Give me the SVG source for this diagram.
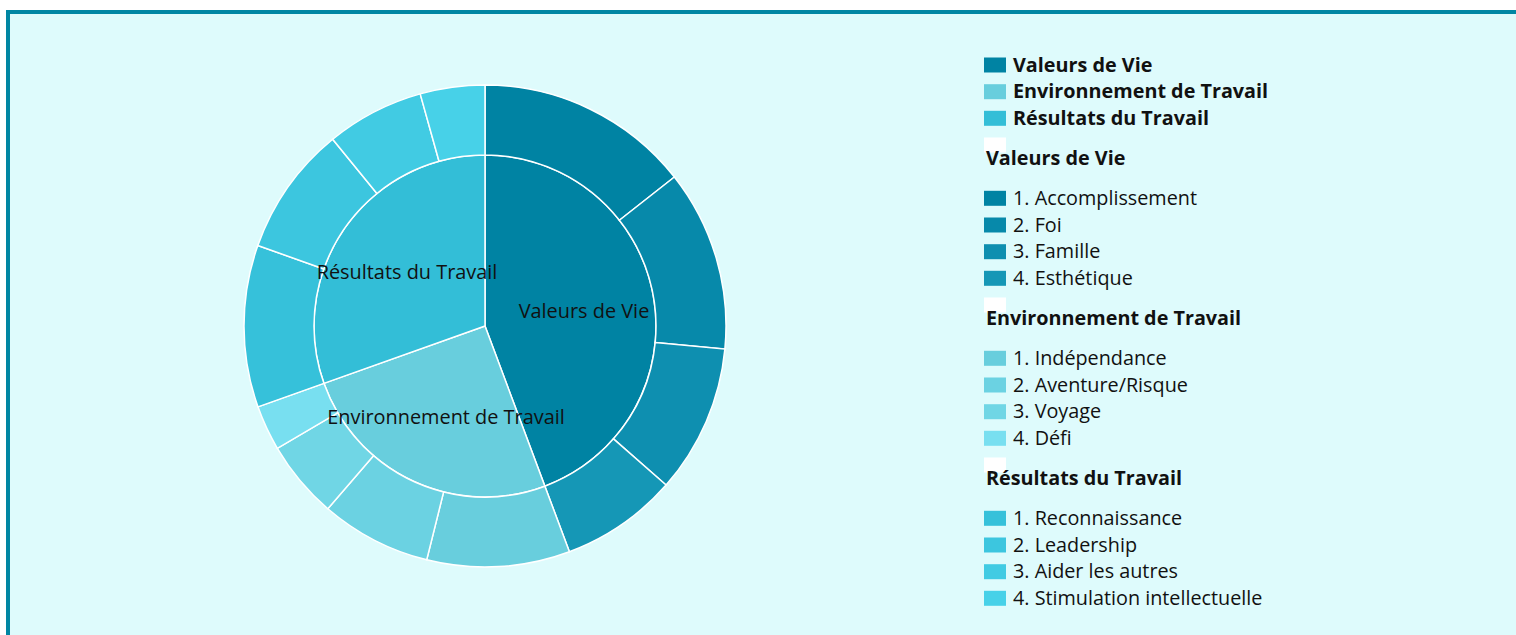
<svg xmlns="http://www.w3.org/2000/svg" width="1516" height="635" viewBox="0 0 1516 635">
<style>
text{font-family:"Open Sans","Noto Sans","Liberation Sans",sans-serif;fill:#111;}
.lbl{font-size:19.9px;}
.leg{font-size:19.8px;}
.b{font-weight:bold;}
.seg{stroke:#ffffff;stroke-width:1.5;}
</style>
<rect x="8" y="12" width="1540" height="660" fill="#defbfc" stroke="#0086a3" stroke-width="4"/>
<g id="chart">
<g id="inner">
<path id="in-valeurs" class="seg" fill="#0083a3" d="M485,326 L485,155 A171,171 0 0 1 544.88,486.18 Z"/>
<path id="in-env" class="seg" fill="#68cedd" d="M485,326 L544.88,486.18 A171,171 0 0 1 323.90,383.37 Z"/>
<path id="in-res" class="seg" fill="#33bed7" d="M485,326 L323.90,383.37 A171,171 0 0 1 485,155 Z"/>
</g>
<g id="outer">
<path id="v1" class="seg" fill="#0083a3" d="M485,155 L485,85 A241,241 0 0 1 674.40,176.97 L619.39,220.25 A171,171 0 0 0 485,155 Z"/>
<path id="v2" class="seg" fill="#0789aa" d="M619.39,220.25 L674.40,176.97 A241,241 0 0 1 724.89,349.09 L655.21,342.38 A171,171 0 0 0 619.39,220.25 Z"/>
<path id="v3" class="seg" fill="#0e8fb0" d="M655.21,342.38 L724.89,349.09 A241,241 0 0 1 666.06,485.06 L613.47,438.86 A171,171 0 0 0 655.21,342.38 Z"/>
<path id="v4" class="seg" fill="#1597b6" d="M613.47,438.86 L666.06,485.06 A241,241 0 0 1 569.40,551.74 L544.88,486.18 A171,171 0 0 0 613.47,438.86 Z"/>
<path id="e1" class="seg" fill="#68cedd" d="M544.88,486.18 L569.40,551.74 A241,241 0 0 1 426.70,559.84 L443.63,491.92 A171,171 0 0 0 544.88,486.18 Z"/>
<path id="e2" class="seg" fill="#6bd2e2" d="M443.63,491.92 L426.70,559.84 A241,241 0 0 1 327.84,508.70 L373.49,455.64 A171,171 0 0 0 443.63,491.92 Z"/>
<path id="e3" class="seg" fill="#70d6e5" d="M373.49,455.64 L327.84,508.70 A241,241 0 0 1 277.35,448.31 L337.67,412.78 A171,171 0 0 0 373.49,455.64 Z"/>
<path id="e4" class="seg" fill="#78dff0" d="M337.67,412.78 L277.35,448.31 A241,241 0 0 1 257.95,406.86 L323.90,383.37 A171,171 0 0 0 337.67,412.78 Z"/>
<path id="r1" class="seg" fill="#36c1da" d="M323.90,383.37 L257.95,406.86 A241,241 0 0 1 257.83,245.55 L323.82,268.92 A171,171 0 0 0 323.90,383.37 Z"/>
<path id="r2" class="seg" fill="#3cc6df" d="M323.82,268.92 L257.83,245.55 A241,241 0 0 1 332.69,139.25 L376.93,193.49 A171,171 0 0 0 323.82,268.92 Z"/>
<path id="r3" class="seg" fill="#41cbe3" d="M376.93,193.49 L332.69,139.25 A241,241 0 0 1 420.20,93.87 L439.02,161.29 A171,171 0 0 0 376.93,193.49 Z"/>
<path id="r4" class="seg" fill="#47d1e8" d="M439.02,161.29 L420.20,93.87 A241,241 0 0 1 485,85 L485,155 A171,171 0 0 0 439.02,161.29 Z"/>
</g>
<g id="labels">
<text class="lbl" x="584" y="318" text-anchor="middle">Valeurs de Vie</text>
<text class="lbl" x="407" y="279" text-anchor="middle">Résultats du Travail</text>
<text class="lbl" x="446" y="424" text-anchor="middle">Environnement de Travail</text>
</g>
</g>
<g id="legend">
<rect x="984" y="57.5" width="22" height="15" fill="#0083a3"/>
<text class="leg b" x="1013" y="71.5">Valeurs de Vie</text>
<rect x="984" y="84.2" width="22" height="15" fill="#68cedd"/>
<text class="leg b" x="1013" y="98.2">Environnement de Travail</text>
<rect x="984" y="110.8" width="22" height="15" fill="#33bed7"/>
<text class="leg b" x="1013" y="124.8">Résultats du Travail</text>

<rect x="984" y="137.5" width="22" height="15" fill="#ffffff"/>
<text class="leg b" x="986" y="165">Valeurs de Vie</text>
<rect x="984" y="190.8" width="22" height="15" fill="#0083a3"/>
<text class="leg" x="1013" y="204.8">1. Accomplissement</text>
<rect x="984" y="217.5" width="22" height="15" fill="#0789aa"/>
<text class="leg" x="1013" y="231.5">2. Foi</text>
<rect x="984" y="244.2" width="22" height="15" fill="#0e8fb0"/>
<text class="leg" x="1013" y="258.2">3. Famille</text>
<rect x="984" y="270.8" width="22" height="15" fill="#1597b6"/>
<text class="leg" x="1013" y="284.8">4. Esthétique</text>

<rect x="984" y="297.5" width="22" height="15" fill="#ffffff"/>
<text class="leg b" x="986" y="325">Environnement de Travail</text>
<rect x="984" y="350.8" width="22" height="15" fill="#68cedd"/>
<text class="leg" x="1013" y="364.8">1. Indépendance</text>
<rect x="984" y="377.5" width="22" height="15" fill="#6bd2e2"/>
<text class="leg" x="1013" y="391.5">2. Aventure/Risque</text>
<rect x="984" y="404.2" width="22" height="15" fill="#70d6e5"/>
<text class="leg" x="1013" y="418.2">3. Voyage</text>
<rect x="984" y="430.8" width="22" height="15" fill="#78dff0"/>
<text class="leg" x="1013" y="444.8">4. Défi</text>

<rect x="984" y="457.5" width="22" height="15" fill="#ffffff"/>
<text class="leg b" x="986" y="485">Résultats du Travail</text>
<rect x="984" y="510.8" width="22" height="15" fill="#36c1da"/>
<text class="leg" x="1013" y="524.8">1. Reconnaissance</text>
<rect x="984" y="537.5" width="22" height="15" fill="#3cc6df"/>
<text class="leg" x="1013" y="551.5">2. Leadership</text>
<rect x="984" y="564.2" width="22" height="15" fill="#41cbe3"/>
<text class="leg" x="1013" y="578.2">3. Aider les autres</text>
<rect x="984" y="590.8" width="22" height="15" fill="#47d1e8"/>
<text class="leg" x="1013" y="604.8">4. Stimulation intellectuelle</text>
</g>
</svg>
